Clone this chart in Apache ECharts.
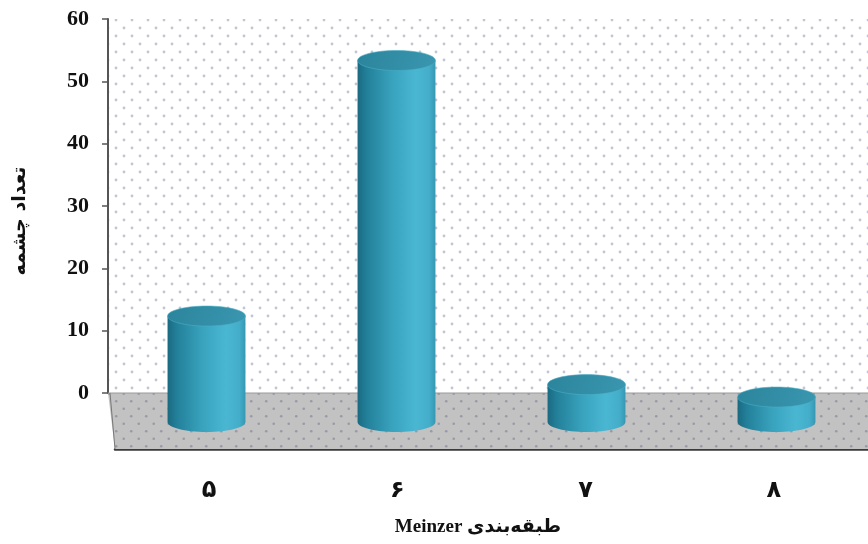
<!DOCTYPE html>
<html><head><meta charset="utf-8">
<script src="https://cdn.jsdelivr.net/npm/echarts@6/dist/echarts.min.js"></script>
<style>html,body{margin:0;padding:0;background:#fff}#c{width:868px;height:544px}</style>
</head><body><div id="c"></div>
<script>
// ---- data ----
const categories = ['۵', '۶', '۷', '۸'];
const springCounts = [17, 58, 6, 4];
const yMin = 0, yMax = 60, yStep = 10;
const yTitle = 'تعداد چشمه';
const xTitle = 'طبقه‌بندی Meinzer';

// ---- style constants ----
const DEPTH_DX = 7, DEPTH_DY = 56;           // front edge offset of the floor
const BAR_DX = DEPTH_DX / 2, BAR_DY = 29;     // bar sits in the middle of the depth
const RY = 10;

function dotTile(bg, dot, size, r) {
  const c = document.createElement('canvas'); c.width = size; c.height = size;
  const g = c.getContext('2d'); g.fillStyle = bg; g.fillRect(0, 0, size, size);
  g.fillStyle = dot;
  [[size / 4, size / 4], [3 * size / 4, 3 * size / 4]].forEach(function (p) {
    g.beginPath(); g.arc(p[0], p[1], r, 0, Math.PI * 2); g.fill();
  });
  return c;
}
const wallTile = dotTile('#ffffff', '#c3c5d4', 16, 1.4);
const floorTile = dotTile('#c2c2c2', '#9a9aa6', 15, 1.3);

function ellipsePath(cx, cy, rx, ry) {
  const k = 0.5523;
  return 'M' + (cx - rx) + ' ' + cy +
    ' C' + (cx - rx) + ' ' + (cy - k * ry) + ' ' + (cx - k * rx) + ' ' + (cy - ry) + ' ' + cx + ' ' + (cy - ry) +
    ' C' + (cx + k * rx) + ' ' + (cy - ry) + ' ' + (cx + rx) + ' ' + (cy - k * ry) + ' ' + (cx + rx) + ' ' + cy +
    ' C' + (cx + rx) + ' ' + (cy + k * ry) + ' ' + (cx + k * rx) + ' ' + (cy + ry) + ' ' + cx + ' ' + (cy + ry) +
    ' C' + (cx - k * rx) + ' ' + (cy + ry) + ' ' + (cx - rx) + ' ' + (cy + k * ry) + ' ' + (cx - rx) + ' ' + cy + ' Z';
}
function bodyPath(cx, yt, yb, rx, ry) {
  const k = 0.5523;
  return 'M' + (cx - rx) + ' ' + yt + ' L' + (cx - rx) + ' ' + yb +
    ' C' + (cx - rx) + ' ' + (yb + k * ry) + ' ' + (cx - k * rx) + ' ' + (yb + ry) + ' ' + cx + ' ' + (yb + ry) +
    ' C' + (cx + k * rx) + ' ' + (yb + ry) + ' ' + (cx + rx) + ' ' + (yb + k * ry) + ' ' + (cx + rx) + ' ' + yb +
    ' L' + (cx + rx) + ' ' + yt + ' Z';
}

const chart = echarts.init(document.getElementById('c'), null, { renderer: 'canvas' });
chart.setOption({
  animation: false,
  backgroundColor: '#ffffff',
  grid: [
    { left: 108, top: 19, width: 760, height: 374, show: true, borderWidth: 0,
      backgroundColor: { image: wallTile, repeat: 'repeat' } },
    { left: 115, top: 448, width: 760, height: 1 }
  ],
  xAxis: [
    { gridIndex: 0, type: 'category', data: categories, boundaryGap: true, show: false },
    { gridIndex: 1, type: 'category', data: categories, boundaryGap: true, position: 'bottom',
      axisLine: { lineStyle: { color: '#3a3a3a', width: 2.5 } },
      axisTick: { length: 9, lineStyle: { color: '#333', width: 2 } },
      axisLabel: { margin: 30, fontSize: 24, fontWeight: 'bold', fontFamily: '"DejaVu Sans"', color: '#111' },
      splitLine: { show: false } }
  ],
  yAxis: [
    { gridIndex: 0, type: 'value', min: yMin, max: yMax, interval: yStep,
      axisLine: { show: true, lineStyle: { color: '#555', width: 2 } },
      axisTick: { show: true, length: 6, lineStyle: { color: '#555', width: 1.5 } },
      axisLabel: { margin: 19, fontSize: 22, fontWeight: 'bold', fontFamily: '"Liberation Serif"', color: '#111' },
      splitLine: { show: false } }
    ,
    { gridIndex: 1, type: 'value', show: false }
  ],
  graphic: [
    { type: 'text', x: 20, y: 221, rotation: Math.PI / 2, z: 10,
      style: { text: yTitle, font: 'bold 19px "DejaVu Sans"', fill: '#111', align: 'center', verticalAlign: 'middle' } },
    { type: 'text', x: 478, y: 527, z: 10,
      style: { text: '\u202B' + xTitle + '\u202C', font: 'bold 19px "Liberation Serif", "DejaVu Sans"', fill: '#111', align: 'center', verticalAlign: 'middle' } }
  ],
  series: [
    { type: 'custom', xAxisIndex: 0, yAxisIndex: 0, z: 1, silent: true,
      data: [0],
      renderItem: function (params) {
        const cs = params.coordSys;
        const x0 = cs.x, y0 = cs.y + cs.height, x1 = cs.x + cs.width + 20;
        return { type: 'group', children: [
          { type: 'polygon', shape: { points: [[x0, y0], [x1, y0], [x1 + DEPTH_DX, y0 + DEPTH_DY], [x0 + DEPTH_DX, y0 + DEPTH_DY]] },
            style: { fill: { image: floorTile, repeat: 'repeat' }, stroke: null } },
          { type: 'line', shape: { x1: x0, y1: y0, x2: x1, y2: y0 }, style: { stroke: '#9a9a9a', lineWidth: 1 } },
          { type: 'line', shape: { x1: x0 + 2, y1: y0, x2: x0 + DEPTH_DX, y2: y0 + DEPTH_DY }, style: { stroke: '#777', lineWidth: 1 } }
        ] };
      } },
    { type: 'custom', xAxisIndex: 0, yAxisIndex: 0, z: 3, silent: true,
      data: springCounts.map(function (v, i) { return [i, v]; }),
      encode: { x: 0, y: 1 },
      renderItem: function (params, api) {
        const base = api.coord([api.value(0), 0]);
        const top = api.coord([api.value(0), api.value(1)]);
        const band = api.size([1, 0])[0];
        const rx = band * 0.205;
        const cx = base[0] + BAR_DX;
        const yb = base[1] + BAR_DY, yt = top[1] + BAR_DY;
        return { type: 'group', children: [
          { type: 'path', shape: { pathData: bodyPath(cx, yt, yb, rx, RY) },
            style: { fill: { type: 'linear', x: 0, y: 0, x2: 1, y2: 0, colorStops: [
              { offset: 0, color: '#1a6a80' }, { offset: 0.12, color: '#23809a' },
              { offset: 0.45, color: '#39a3be' }, { offset: 0.75, color: '#4ab7d2' },
              { offset: 0.92, color: '#44aeca' }, { offset: 1, color: '#3598b2' } ] }, stroke: null } },
          { type: 'path', shape: { pathData: ellipsePath(cx, yt, rx, RY) },
            style: { fill: { type: 'linear', x: 0, y: 0, x2: 1, y2: 1, colorStops: [
              { offset: 0, color: '#2a849c' }, { offset: 1, color: '#3a97af' } ] }, stroke: '#4aaec6', lineWidth: 0.6 } }
        ] };
      } }
  ]
});
</script></body></html>
